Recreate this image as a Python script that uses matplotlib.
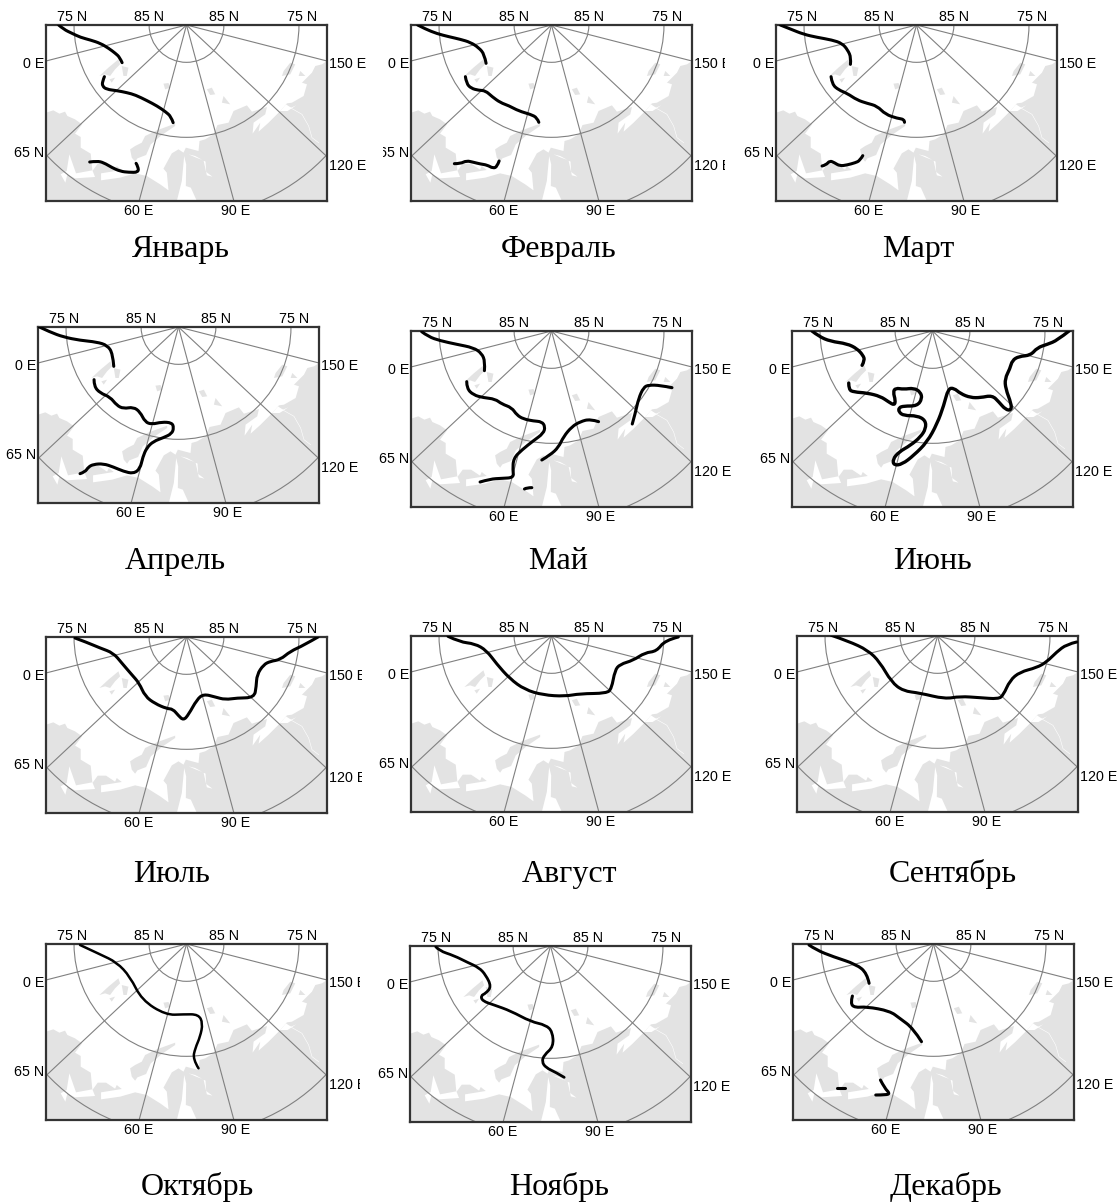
import matplotlib
matplotlib.use('Agg')
import matplotlib.pyplot as plt
from matplotlib.patches import Polygon, Circle, PathPatch
from matplotlib.path import Path
from matplotlib.transforms import Bbox

W, H = 1120, 1202
plt.rcParams['font.family'] = ['Liberation Sans', 'DejaVu Sans']

# map units are 1/3 pixel, y goes down from the frame top
MAP_W, MAP_H = 842, 528

months = ['Январь', 'Февраль', 'Март', 'Апрель', 'Май', 'Июнь',
          'Июль', 'Август', 'Сентябрь', 'Октябрь', 'Ноябрь', 'Декабрь']
frame_left = [46, 411, 776, 38, 411, 792, 46, 411, 797, 46, 410, 793]
frame_top = [25, 25, 25, 327, 331, 331, 637, 636, 636, 944, 946, 944]
title_x = [181, 559, 918, 175, 558, 933, 172, 569, 953, 197, 559, 946]
title_y = [257, 257, 257, 569, 569, 569, 882, 882, 882, 1195, 1195, 1195]
# some of the source pictures cut the labels off at the sides
clip_left = [0, 383, 740, 0, 375, 760, 0, 375, 760, 0, 375, 760]
clip_right = [370, 725, 1120, 370, 735, 1120, 362, 735, 1120, 360, 735, 1120]

# graticule
pole = (421, 0)
meridian_ends = [(0, 108), (0, 395), (279, 528), (563, 528), (842, 395), (842, 108)]
parallel_radius = [112, 337, 573]
top_labels = ['75 N', '85 N', '85 N', '75 N']
top_label_x = [78, 310, 533, 766]
left_labels = ['0 E', '65 N']
left_label_y = [117, 383]
right_labels = ['150 E', '120 E']
right_label_y = [117, 422]
bottom_labels = ['60 E', '90 E']
bottom_label_x = [278, 569]

# land (frame corner at 78, 52 in the crop)
land_origin = (78, 52)
mainland = [(78, 315), (100, 308), (118, 318), (135, 312), (142, 325), (165, 335), (186, 350),
            (165, 378), (182, 388), (182, 420), (212, 438), (217, 490), (233, 468), (258, 468),
            (285, 486), (290, 475), (305, 487), (243, 497), (243, 518), (300, 510), (345, 497),
            (380, 505), (420, 530), (445, 548), (440, 495), (430, 483), (455, 437), (475, 425),
            (490, 435), (497, 420), (535, 430), (538, 400), (555, 395), (580, 380), (592, 352),
            (625, 345), (640, 310), (680, 293), (695, 312), (740, 298), (735, 320), (700, 345),
            (697, 378), (720, 345), (715, 372), (745, 345), (780, 310), (800, 287), (815, 285),
            (850, 265), (860, 230), (845, 225), (860, 210), (875, 195), (885, 175), (905, 170),
            (920, 160), (920, 580), (78, 580)]
islands = [
    [(330, 425), (345, 415), (365, 405), (375, 385), (410, 368), (465, 348), (465, 355),
     (425, 382), (392, 410), (378, 442), (352, 452), (345, 462), (335, 450)],
    [(238, 205), (265, 180), (295, 155), (300, 170), (285, 185), (270, 205), (255, 200)],
    [(268, 215), (285, 210), (275, 225)],
    [(305, 175), (325, 180), (320, 205), (310, 205)],
    [(430, 228), (445, 226), (450, 240), (435, 245)],
    [(560, 245), (575, 240), (585, 260), (570, 262)],
    [(610, 265), (630, 290), (605, 285)],
    [(790, 190), (810, 165), (825, 170), (810, 200), (785, 205)],
    [(840, 190), (855, 205), (835, 205)],
]
inlets = [
    [(148, 440), (168, 497), (217, 488), (225, 508), (165, 512), (142, 500), (136, 525),
     (122, 500), (140, 490)],
    [(492, 445), (485, 520), (470, 580), (530, 580), (512, 540), (497, 535), (498, 470)],
    [(505, 440), (528, 450), (550, 458), (560, 503), (577, 507), (558, 493), (556, 462), (525, 445)],
    [(780, 310), (797, 290), (812, 300), (828, 293), (802, 310)],
]
river_x = [810, 845, 865, 875, 895]
river_y = [300, 320, 355, 390, 405]

edge_origin = [(137, 75), (92, 60), (47, 60), (54, 50), (123, 63), (65, 62),
               (78, 52), (94, 47), (52, 47), (78, 57), (-2, 63), (40, 57)]
edge_width = [2.2, 2.2, 2.2, 2.2, 2.2, 2.4, 2.2, 2.2, 2.2, 1.8, 2.0, 2.2]

jan_edge = [
    [(175, 75), (190, 88), (215, 100), (240, 112), (270, 120), (300, 130), (325, 145), (345, 160), (358, 172), (365, 188)],
    [(312, 230), (306, 245), (306, 258), (318, 268), (350, 272), (380, 278), (405, 285), (440, 302), (470, 318), (495, 335), (512, 350), (518, 368)],
    [(268, 486), (290, 483), (310, 488), (335, 503), (360, 514), (385, 517), (414, 517), (413, 500), (407, 490)],
]
feb_edge = [
    [(112, 60), (135, 72), (170, 86), (205, 95), (240, 103), (270, 112), (295, 128), (312, 148), (317, 175)],
    [(255, 215), (258, 235), (272, 250), (295, 256), (315, 257), (335, 275), (360, 293), (385, 302), (415, 318), (450, 328), (470, 338), (475, 352)],
    [(222, 476), (240, 476), (258, 467), (280, 472), (300, 477), (320, 480), (338, 490), (350, 485), (356, 468)],
]
mar_edge = [
    [(60, 60), (90, 72), (130, 88), (170, 97), (215, 105), (245, 115), (262, 135), (272, 158), (270, 178)],
    [(212, 215), (215, 238), (235, 255), (260, 265), (290, 285), (320, 295), (350, 303), (375, 328), (410, 340), (432, 343), (432, 352)],
    [(185, 483), (197, 480), (208, 467), (222, 473), (238, 483), (260, 480), (285, 473), (298, 467), (307, 452)],
]
apr_edge = [
    [(58, 50), (90, 65), (130, 80), (180, 90), (230, 95), (262, 105), (278, 130), (281, 168)],
    [(222, 208), (222, 228), (240, 248), (270, 260), (290, 285), (310, 295), (340, 290), (360, 305), (375, 335), (395, 342),
     (425, 335), (455, 337), (461, 352), (455, 370), (430, 382), (400, 393), (380, 412), (368, 440), (360, 475), (340, 490),
     (310, 483), (280, 470), (250, 460), (220, 462), (205, 470), (195, 485), (180, 490)],
]
may_edge = [
    [(155, 65), (175, 80), (210, 92), (260, 103), (310, 113), (335, 130), (345, 155), (343, 182)],
    [(290, 215), (290, 235), (310, 255), (340, 263), (375, 267), (395, 282), (425, 293), (440, 315), (460, 327), (490, 333),
     (515, 335), (525, 350), (520, 370), (490, 392), (455, 420), (430, 445), (428, 480), (431, 503), (395, 505), (360, 507), (330, 516)],
    [(515, 450), (540, 435), (565, 412), (580, 380), (605, 350), (630, 335), (660, 327), (685, 335)],
    [(463, 537), (470, 533), (485, 533)],
    [(786, 342), (795, 310), (805, 265), (820, 232), (835, 225), (870, 226), (905, 233)],
]
jun_edge = [
    [(125, 62), (145, 78), (180, 93), (230, 100), (260, 115), (278, 135), (283, 150), (275, 165)],
    [(235, 218), (235, 238), (250, 245), (290, 248), (330, 258), (355, 275), (372, 285), (375, 270), (368, 245), (375, 233),
     (400, 237), (430, 233), (450, 245), (455, 265), (440, 287), (400, 287), (385, 292), (385, 305), (400, 316), (440, 316),
     (465, 330), (466, 355), (450, 380), (420, 405), (385, 425), (367, 447), (370, 465), (395, 462), (430, 435), (470, 395),
     (500, 340), (520, 285), (533, 235), (550, 233), (570, 250), (600, 262), (630, 262), (665, 255), (685, 275), (705, 298),
     (722, 300), (722, 280), (705, 235), (703, 205), (718, 175), (725, 150), (745, 138), (780, 135), (800, 112), (830, 102),
     (860, 90), (895, 62)],
]
jul_edge = [
    [(165, 55), (200, 68), (240, 85), (280, 100), (305, 130), (335, 165), (357, 190), (375, 230), (405, 252), (440, 267),
     (458, 268), (475, 288), (490, 302), (505, 285), (530, 240), (550, 223), (585, 232), (615, 240), (650, 235), (702, 234),
     (708, 200), (710, 165), (730, 135), (750, 125), (780, 120), (810, 95), (850, 77), (893, 52)],
]
aug_edge = [
    [(205, 48), (240, 65), (285, 70), (320, 90), (350, 130), (390, 175), (435, 208), (490, 224), (555, 228), (600, 220),
     (680, 219), (695, 205), (705, 150), (720, 132), (760, 120), (795, 97), (830, 93), (855, 60), (895, 50)],
]
sep_edge = [
    [(155, 45), (205, 62), (265, 90), (300, 125), (335, 185), (370, 212), (420, 218), (495, 236), (540, 228), (600, 232),
     (655, 236), (670, 225), (690, 180), (720, 155), (770, 142), (800, 125), (830, 95), (860, 72), (890, 65)],
]
oct_edge = [
    [(180, 60), (240, 88), (290, 112), (330, 155), (365, 225), (437, 270), (490, 268), (535, 268), (548, 295), (540, 335),
     (525, 370), (518, 402), (535, 430)],
]
nov_edge = [
    [(75, 65), (85, 77), (130, 92), (170, 112), (205, 128), (225, 150), (242, 185), (225, 205), (210, 212), (215, 228),
     (250, 240), (300, 258), (360, 290), (405, 300), (425, 320), (428, 365), (400, 390), (393, 410), (405, 428), (435, 442), (460, 457)],
]
dec_edge = [
    [(88, 60), (110, 75), (160, 95), (230, 118), (262, 145), (268, 175)],
    [(218, 213), (212, 235), (225, 248), (260, 245), (330, 258), (360, 280), (400, 310), (425, 350)],
    [(172, 488), (195, 488)],
    [(302, 465), (315, 490), (330, 505), (320, 510), (288, 510)],
]
edges = [jan_edge, feb_edge, mar_edge, apr_edge, may_edge, jun_edge,
         jul_edge, aug_edge, sep_edge, oct_edge, nov_edge, dec_edge]


def shift(points, origin):
    return [(x - origin[0], y - origin[1]) for x, y in points]


def smooth_path(pts):
    # quadratic curves with the read points as control points, so the edge is not angular
    verts = [pts[0]]
    codes = [Path.MOVETO]
    for j in range(1, len(pts) - 1):
        mid = ((pts[j][0] + pts[j + 1][0]) / 2, (pts[j][1] + pts[j + 1][1]) / 2)
        if j == len(pts) - 2:
            mid = pts[j + 1]
        verts += [pts[j], mid]
        codes += [Path.CURVE3, Path.CURVE3]
    if len(pts) == 2:
        verts.append(pts[1])
        codes.append(Path.LINETO)
    return Path(verts, codes)


fig = plt.figure(figsize=(W / 100, H / 100), dpi=100)

for i, month in enumerate(months):
    ax = fig.add_axes([frame_left[i] / W, 1 - (frame_top[i] + 176) / H, 281 / W, 176 / H])
    ax.set_xlim(0, MAP_W)
    ax.set_ylim(MAP_H, 0)
    ax.set_xticks([])
    ax.set_yticks([])
    for spine in ax.spines.values():
        spine.set_linewidth(1.6)
        spine.set_color('#333333')

    ax.add_patch(Polygon(shift(mainland, land_origin), fc='#e3e3e3', ec='none', zorder=1))
    for isl in islands:
        ax.add_patch(Polygon(shift(isl, land_origin), fc='#e3e3e3', ec='none', zorder=1))
    for inl in inlets:
        ax.add_patch(Polygon(shift(inl, land_origin), fc='white', ec='none', zorder=1.1))
    ax.plot([x - land_origin[0] for x in river_x], [y - land_origin[1] for y in river_y],
            color='white', lw=0.4, zorder=1.1)

    for end in meridian_ends:
        ax.plot([pole[0], end[0]], [pole[1], end[1]], color='#808080', lw=0.8, zorder=2)
    for r in parallel_radius:
        ax.add_patch(Circle(pole, r, fill=False, ec='#808080', lw=0.8, zorder=2))

    for seg in edges[i]:
        pts = shift(seg, edge_origin[i])
        ax.add_patch(PathPatch(smooth_path(pts), fill=False, ec='black', lw=edge_width[i],
                               capstyle='round', joinstyle='round', zorder=3))

    # tick style labels, cut at the panel's picture edge
    box = Bbox([[clip_left[i], 0], [clip_right[i], H]])
    labels = []
    for txt, x in zip(top_labels, top_label_x):
        labels.append(ax.text(x, -24, txt, ha='center', va='center', fontsize=10.3))
    for txt, y in zip(left_labels, left_label_y):
        labels.append(ax.text(-6, y, txt, ha='right', va='center', fontsize=10.3))
    for txt, y in zip(right_labels, right_label_y):
        labels.append(ax.text(MAP_W + 6, y, txt, ha='left', va='center', fontsize=10.3))
    for txt, x in zip(bottom_labels, bottom_label_x):
        labels.append(ax.text(x, MAP_H + 31, txt, ha='center', va='center', fontsize=10.3))
    for t in labels:
        t.set_clip_box(box)
        t.set_clip_on(True)

    fig.text(title_x[i] / W, 1 - title_y[i] / H, month, ha='center', va='baseline',
             fontsize=23, family=['Liberation Serif', 'DejaVu Serif'])

fig.savefig('out.png', dpi=100)
